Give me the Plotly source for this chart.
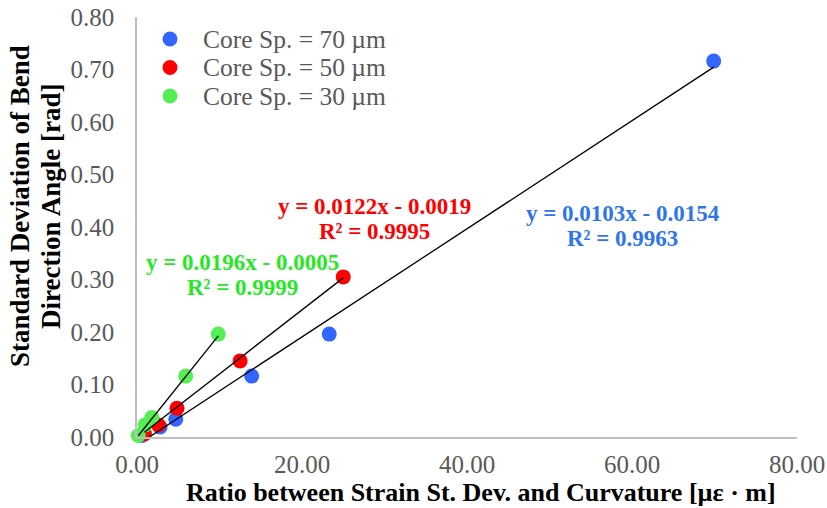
import plotly.graph_objects as go

# ---- data ----
series_names = ["Core Sp. = 70 µm", "Core Sp. = 50 µm", "Core Sp. = 30 µm"]
x70 = [0.6, 2.8, 4.7, 13.9, 23.3, 69.9]
y70 = [0.003, 0.019, 0.034, 0.116, 0.196, 0.716]
x50 = [0.9, 2.6, 4.85, 12.5, 25.0]
y50 = [0.006, 0.023, 0.055, 0.145, 0.305]
x30 = [0.15, 0.97, 1.8, 5.9, 9.85]
y30 = [0.003, 0.023, 0.037, 0.116, 0.196]
# trendline coefficients (slope, intercept) and R²
fit70 = (0.0103, -0.0154, 0.9963)
fit50 = (0.0122, -0.0019, 0.9995)
fit30 = (0.0196, -0.0005, 0.9999)
x_ticks = [0, 20, 40, 60, 80]
y_ticks = [0, 0.1, 0.2, 0.3, 0.4, 0.5, 0.6, 0.7, 0.8]
x_title = "Ratio between Strain St. Dev. and Curvature [µε · m]"
y_title_lines = ["Standard Deviation of Bend", "Direction Angle [rad]"]

marker_colors = ["#3366FF", "#FF0000", "#55EE55"]
text_colors = ["#2F75EE", "#FF0000", "#26E826"]
FONT = "Liberation Serif"

fig = go.Figure()
data = [(x70, y70, fit70), (x50, y50, fit50), (x30, y30, fit30)]
for (xs, ys, f), name, c in zip(data, series_names, marker_colors):
    fig.add_trace(go.Scatter(x=xs, y=ys, mode="markers", name=name,
                             marker=dict(size=15, color=c, line=dict(width=0)),
                             cliponaxis=False, showlegend=False))
for (xs, ys, f) in data:
    x0, x1 = min(xs), max(xs)
    fig.add_trace(go.Scatter(x=[x0, x1], y=[f[0] * x0 + f[1], f[0] * x1 + f[1]],
                             mode="lines", line=dict(color="black", width=1.3),
                             showlegend=False, hoverinfo="skip"))

# legend (drawn manually for Excel-like tight spacing)
PW, PH = 660, 420
leg_px_y = [39, 67.5, 96]
for name, c, py in zip(series_names, marker_colors, leg_px_y):
    ly = (437 - py) / PH
    fig.add_shape(type="circle", xref="paper", yref="paper",
                  x0=(170 - 7.5 - 137) / PW, x1=(170 + 7.5 - 137) / PW,
                  y0=ly - 7.5 / PH, y1=ly + 7.5 / PH,
                  fillcolor=c, line=dict(width=0))
    fig.add_annotation(x=(202 - 137) / PW, y=ly, xref="paper", yref="paper", text=name,
                       showarrow=False, xanchor="left", yanchor="middle", borderpad=0,
                       font=dict(family=FONT, size=25.5, color="#595959"))

# trendline equations (positions in data coordinates)
eq_pos = [(58.9, 0.4257, 0.378), (28.73, 0.4391, 0.3914), (12.73, 0.3324, 0.2848)]
for (xa, y1, y2), f, c in zip(eq_pos, [fit70, fit50, fit30], text_colors):
    sign = "-" if f[1] < 0 else "+"
    fig.add_annotation(x=xa, y=y1, text=f"<b>y = {f[0]:.4f}x {sign} {abs(f[1]):.4f}</b>",
                       showarrow=False, font=dict(family=FONT, size=23, color=c),
                       xanchor="center", yanchor="middle", borderpad=0)
    fig.add_annotation(x=xa, y=y2, text=f"<b>R² = {f[2]:.4f}</b>",
                       showarrow=False, font=dict(family=FONT, size=23, color=c),
                       xanchor="center", yanchor="middle", borderpad=0)

fig.add_annotation(x=0.521, y=-0.131, xref="paper", yref="paper",
                   text=f"<b>{x_title}</b>",
                   showarrow=False, font=dict(family=FONT, size=26, color="black"),
                   xanchor="center", yanchor="middle")
for line, px in zip(y_title_lines, [20.5, 51.5]):
    fig.add_annotation(x=(px - 137) / PW, y=0.549, xref="paper", yref="paper", textangle=-90,
                       text=f"<b>{line}</b>", borderpad=0,
                       showarrow=False, font=dict(family=FONT, size=27, color="black"),
                       xanchor="center", yanchor="middle")

axis_common = dict(showgrid=False, zeroline=False, showline=True, linecolor="#BFBFBF",
                   linewidth=1.5, ticks="", ticklabeloverflow="allow", automargin=False,
                   tickfont=dict(family=FONT, size=25, color="#595959"))
fig.update_xaxes(range=[0, 80], tickvals=x_ticks, tickformat=".2f", ticklabelstandoff=4, **axis_common)
fig.update_yaxes(range=[0, 0.8], tickvals=y_ticks, tickformat=".2f", ticklabelstandoff=16, **axis_common)

fig.update_layout(
    width=827, height=508,
    margin=dict(l=137, r=30, t=17, b=71, autoexpand=False),
    paper_bgcolor="white", plot_bgcolor="white",
    font=dict(family=FONT),
    showlegend=False,
)

fig.write_html("out.html")
